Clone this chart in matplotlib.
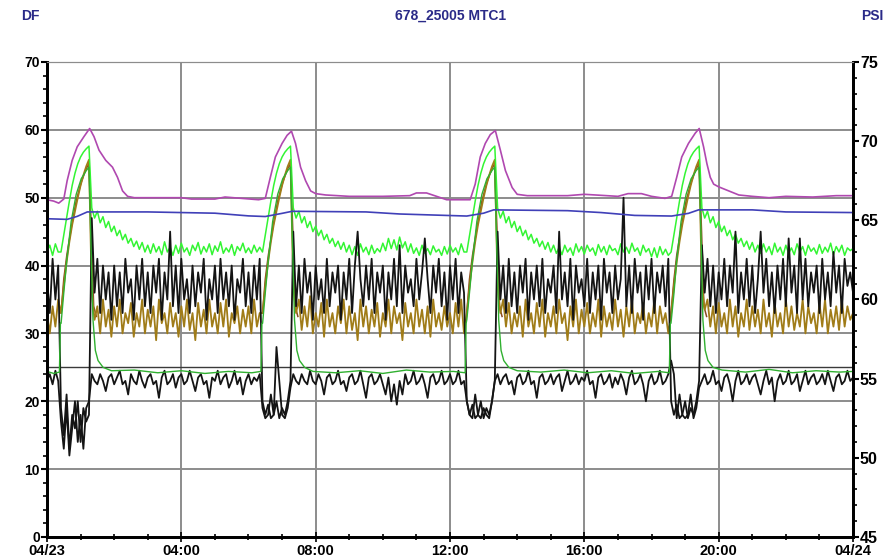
import numpy as np
import matplotlib
matplotlib.use("Agg")
import matplotlib.pyplot as plt
from matplotlib.ticker import MultipleLocator

# ---- datos (lecturas cada 5 min, 04/23 00:00 -> 04/24 00:00) ----
titulo = "678_25005 MTC1"
xtick_horas = [0, 4, 8, 12, 16, 20, 24]
xtick_labels = ["04/23", "04:00", "08:00", "12:00", "16:00", "20:00", "04/24"]

# negro superior (DF)
negro_alto = [
    38, 33, 41, 35, 40, 19, 15, 21, 13, 18, 16, 20,
    14, 19, 17, 18, 47, 36, 41, 33, 40, 35, 39, 32,
    40, 34, 39, 33, 41, 36, 38, 32, 40, 35, 41, 34,
    39, 33, 40, 36, 41, 32, 39, 35, 45, 34, 40, 33,
    41, 35, 38, 33, 40, 34, 39, 36, 41, 32, 38, 35,
    40, 33, 41, 35, 39, 34, 40, 32, 38, 36, 41, 34,
    39, 33, 40, 35, 41, 20, 18, 19.5, 17.5, 18, 20, 17.5,
    19, 18, 20, 23, 45, 34, 40, 33, 41, 36, 39, 32,
    40, 35, 38, 33, 41, 34, 39, 36, 40, 32, 39, 35,
    41, 33, 40, 45, 38, 34, 40, 35, 41, 33, 39, 36,
    40, 32, 39, 35, 41, 34, 43, 33, 40, 36, 38, 34,
    41, 35, 39, 44, 38, 33, 40, 36, 41, 34, 39, 32,
    40, 35, 41, 33, 39, 36, 20, 18, 19.5, 17.5, 18, 20,
    17.5, 19, 18, 20, 23, 45, 35, 40, 33, 41, 34, 39,
    33, 40, 36, 41, 32, 39, 35, 40, 34, 41, 33, 38,
    36, 40, 33, 45, 35, 39, 34, 41, 32, 40, 36, 38,
    34, 41, 33, 39, 35, 40, 32, 41, 36, 39, 33, 40,
    35, 38, 50, 34, 40, 33, 41, 36, 39, 32, 40, 35,
    41, 33, 39, 36, 40, 34, 41, 20, 18, 19.5, 17.5, 18,
    20, 17.5, 19, 18, 20, 23, 43, 36, 41, 34, 40, 33,
    39, 35, 41, 34, 40, 36, 45, 33, 39, 35, 41, 34,
    40, 33, 38, 45, 36, 41, 34, 39, 33, 40, 35, 41,
    34, 44, 36, 40, 33, 44, 35, 41, 34, 39, 36, 40,
    33, 41, 35, 39, 34, 42, 36, 40, 33, 41, 37, 39,
    36,
]

# negro inferior (DF)
negro_bajo = [
    23, 24, 22.5, 24.5, 23, 17, 13, 19, 12, 16, 20, 14,
    18, 13, 19, 20, 24, 23, 22.5, 24, 23, 21.5, 23.5, 24,
    22.5, 23.5, 24.5, 22.5, 23, 21, 24, 23, 22.5, 24.5, 23, 22,
    23.5, 24, 22.5, 23, 20.5, 23.5, 24.5, 22.5, 23, 24, 22, 23.5,
    24, 22.5, 23, 24.5, 23, 21.5, 23.5, 24, 22.5, 23, 20.5, 23.5,
    23, 24.5, 22.5, 23.5, 24, 22, 23, 24.5, 22.5, 23.5, 21, 23,
    24, 22.5, 23.5, 23, 24, 19, 17.5, 18, 21, 18, 28, 23,
    18, 17.5, 19, 22, 24, 23, 22.5, 24, 23, 22.5, 24.5, 23,
    22.5, 24, 23, 21, 23.5, 24, 22.5, 23, 24.5, 22.5, 23, 21.5,
    23.5, 24, 22.5, 23, 24.5, 22.5, 20.5, 23.5, 24, 22.5, 23, 24,
    22.5, 21, 23.5, 20, 22.5, 19.5, 23, 21, 24, 22.5, 23, 24.5,
    22.5, 23, 24, 22.5, 20.5, 23.5, 24, 22.5, 23, 24.5, 22.5, 23,
    24, 22.5, 23, 24.5, 22.5, 23, 20, 18, 17.5, 21, 18, 17.5,
    19, 18, 17.5, 20, 23, 24, 22.5, 23.5, 24, 22.5, 23, 21,
    23.5, 24, 22.5, 23, 24.5, 22.5, 23, 20.5, 23.5, 24, 22.5, 23,
    24, 22.5, 23.5, 24, 21.5, 23, 24.5, 22.5, 23, 24, 22.5, 23.5,
    23, 24.5, 22.5, 23, 20.5, 23.5, 24, 22.5, 23, 24, 22, 23.5,
    22.5, 24, 23, 21, 23.5, 24.5, 22.5, 23, 24, 22.5, 20, 23,
    24, 22.5, 23, 24.5, 22.5, 23, 24, 26, 24, 17.5, 21, 18,
    17.5, 18, 21, 17.5, 19, 22, 23, 24, 22.5, 23, 24.5, 22.5,
    23, 21.5, 23.5, 24, 22.5, 20, 23, 24.5, 22.5, 23, 24, 22.5,
    23.5, 24, 22.5, 21, 23, 24.5, 22.5, 23.5, 20, 23, 24, 22.5,
    23, 24.5, 22.5, 23, 24, 21.5, 23, 24.5, 22.5, 23.5, 24, 22.5,
    23, 24, 22.5, 24.5, 23, 21.5, 23.5, 24, 22.5, 23, 24.5, 23,
    23.5,
]

# ocre (DF)
ocre = [
    33, 30, 34, 31, 35, 33, 37, 40.5, 43.5, 46, 48, 50,
    51.8, 53.3, 54.6, 55.6, 36, 32, 34, 30, 35, 31, 33.5, 29.5,
    34, 31, 35, 30, 33, 31.5, 34.5, 29.5, 33, 31, 35, 30,
    33.5, 31, 34, 29, 35, 31.5, 33, 30, 34.5, 31, 33, 29.5,
    34, 31, 35, 30.5, 33, 29, 34.5, 31, 33.5, 30, 35, 31,
    33, 30, 34.5, 31, 35, 29.5, 33, 31.5, 34, 30, 33.5, 31,
    34, 30, 35, 31, 33, 33, 37, 40.5, 43.5, 46, 48, 50,
    51.8, 53.3, 54.6, 55.6, 37, 33, 35, 30.5, 34, 31, 35.5, 30,
    33, 31, 34.5, 29.5, 35, 31, 33, 30, 34, 31.5, 35, 30,
    34, 30.5, 33, 29, 35, 31, 34, 30, 33.5, 31, 34.5, 29.5,
    33, 31, 35, 30, 34, 31.5, 33, 29, 34.5, 31, 33, 30,
    35, 31, 33.5, 30, 34, 29.5, 35, 31, 33, 30.5, 34, 31,
    33, 30, 34.5, 31, 35, 30, 33, 37, 40.5, 43.5, 46, 48,
    50, 51.8, 53.3, 54.6, 55.6, 37, 33, 35, 31, 34.5, 30, 33,
    31, 34, 29.5, 35, 31, 33, 30, 34.5, 31, 35, 29.5, 33,
    31, 34, 30, 35, 31.5, 33, 29, 34, 31, 35, 30, 33.5,
    31, 34.5, 30, 33, 31, 35, 29.5, 34, 31, 33, 30.5, 35,
    31, 33.5, 29.5, 34, 31, 35, 30, 33, 31.5, 34.5, 30, 33,
    31, 35, 30, 34, 31.5, 33, 30, 33, 37, 40.5, 43.5, 46,
    48, 50, 51.8, 53.3, 54.6, 55.6, 37, 33.5, 35, 31, 34, 30,
    34.5, 31, 33, 30, 35, 31, 34, 29.5, 33, 31, 35, 30.5,
    34, 31, 33.5, 30, 35, 31, 33, 29.5, 34.5, 31, 33, 30,
    35, 31, 34, 30.5, 33, 31, 35, 30, 34, 31.5, 33, 30,
    34.5, 31, 35, 30, 33.5, 31, 34, 30.5, 35, 31, 34, 32,
    33,
]

# verde claro (DF)
verde = [
    42, 43, 41.5, 43.2, 42, 42, 44.5, 47, 49.5, 51.8, 53.6, 55,
    56, 56.7, 57.2, 57.6, 48.5, 47, 48, 46.3, 47.2, 45.6, 46.5, 45,
    45.8, 44.4, 45.2, 43.8, 44.6, 43.3, 44, 42.8, 43.6, 42.4, 43.4, 42,
    43, 41.8, 43.2, 42, 42.8, 41.6, 43.5, 42, 42.7, 41.5, 43, 41.8,
    43.3, 42, 42.6, 41.5, 43, 42.2, 43.4, 41.7, 42.8, 42, 43.2, 41.6,
    42.9, 42.1, 43.5, 41.8, 42.6, 42, 43.1, 41.5, 42.8, 42.2, 43.3, 41.9,
    42.6, 41.8, 43, 42, 42.7, 42, 44.5, 47, 49.5, 51.8, 53.6, 55,
    56, 56.7, 57.2, 57.6, 48.5, 47, 48, 46.3, 47.2, 45.6, 46.5, 45,
    45.8, 44.4, 45.2, 43.8, 44.6, 43.3, 44, 42.8, 43.6, 42.4, 43.4, 42,
    43, 41.6, 42.8, 41.5, 43.2, 42, 42.7, 41.6, 43, 41.8, 42.5, 42,
    43.3, 42.2, 44, 42.5, 43.8, 42.3, 44.2, 42.6, 43.5, 42, 43.2, 41.8,
    42.6, 41.5, 43, 41.8, 42.5, 41.6, 42.9, 42, 42.4, 41.5, 42.8, 41.7,
    43, 42, 42.6, 41.6, 43.2, 42, 42, 44.5, 47, 49.5, 51.8, 53.6,
    55, 56, 56.7, 57.2, 57.6, 48.5, 47, 48, 46.3, 47.2, 45.6, 46.5,
    45, 45.8, 44.4, 45.2, 43.8, 44.6, 43.3, 44, 42.8, 43.6, 42.4, 43.4,
    42, 43, 41.8, 42.7, 41.6, 43, 42, 42.6, 41.5, 43.2, 42, 42.8,
    41.7, 43, 42.1, 42.6, 41.5, 43.1, 42, 42.8, 41.6, 43, 42.2, 42.5,
    41.6, 43.2, 42, 42.7, 41.8, 43.3, 42.1, 42.6, 41.5, 43, 42, 42.5,
    41.3, 42.6, 41.2, 42.8, 41.6, 42.4, 41.5, 42, 44.5, 47, 49.5, 51.8,
    53.6, 55, 56, 56.7, 57.2, 57.6, 48.5, 47, 48, 46.3, 47.2, 45.6,
    46.5, 45, 45.8, 44.4, 45.2, 43.8, 44.6, 43.3, 44, 42.8, 43.6, 42.4,
    43.4, 42, 43, 41.8, 43.2, 42, 42.8, 41.6, 43.3, 42, 42.7, 41.5,
    43, 41.8, 42.6, 41.6, 43.2, 42, 42.8, 41.5, 43, 42.1, 42.6, 41.7,
    43.1, 41.8, 42.7, 42, 43.3, 41.6, 42.8, 42, 43, 41.5, 42.6, 42.2,
    42.5,
]

# verde oscuro (horas, DF)
verde2_h = [0, 0.2, 0.37, 0.4, 0.42, 0.5, 0.59, 0.72, 0.87, 1.02, 1.17, 1.25, 1.3, 1.37, 1.44, 1.52, 1.67, 1.92,
            2.6, 3.3, 4.0, 4.7, 5.4, 6.1, 6.37, 6.4, 6.42, 6.5, 6.59, 6.72, 6.87, 7.02, 7.17, 7.25, 7.3, 7.37, 7.44,
            7.52, 7.67, 7.92, 8.6, 9.3, 10.0, 10.7, 11.4, 12.1, 12.45, 12.48, 12.5, 12.58, 12.67, 12.8, 12.95, 13.1,
            13.25, 13.33, 13.38, 13.45, 13.52, 13.6, 13.75, 14.0, 14.7, 15.4, 16.1, 16.8, 17.5, 18.2, 18.53, 18.56,
            18.58, 18.67, 18.75, 18.88, 19.03, 19.18, 19.33, 19.42, 19.47, 19.53, 19.6, 19.68, 19.83, 20.1, 20.8,
            21.5, 22.2, 22.9, 23.6, 24.0]
verde2_v = [24.4, 24.1, 24.3, 31.5, 31.5, 36, 40.8, 46.5, 50.5, 52.8, 54, 54.5, 45, 32, 27.5, 26, 25, 24.5,
            24.6, 24.2, 24.5, 24.1, 24.4, 24.2, 24.4, 31.5, 31.5, 36, 40.8, 46.5, 50.5, 52.8, 54, 54.5, 45, 32, 27.5,
            26, 25, 24.4, 24.2, 24.5, 24.1, 24.6, 24.3, 24.4, 24.2, 31.5, 32, 36, 40.8, 46.5, 50.5, 52.8,
            54, 54.5, 45, 32, 27.5, 26, 25, 24.5, 24.3, 24.6, 24.2, 24.5, 24.1, 24.4, 24.2, 31.5,
            31.5, 36, 40.8, 46.5, 50.5, 52.8, 54, 54.5, 45, 32, 27.5, 26, 25, 24.6, 24.3,
            24.7, 24.2, 24.5, 24.3, 24.4]

# marron (horas, DF) - solo se ve durante los deshielos, None = oculto
marron_h = [0.42, 0.5, 0.59, 0.72, 0.87, 1.02, 1.17, 1.25, 1.32, 1.39, 1.47, 1.5,
            6.42, 6.5, 6.59, 6.72, 6.87, 7.02, 7.17, 7.25, 7.32, 7.39, 7.47, 7.5,
            12.5, 12.58, 12.67, 12.8, 12.95, 13.1, 13.25, 13.33, 13.4, 13.47, 13.55, 13.6,
            18.58, 18.67, 18.75, 18.88, 19.03, 19.18, 19.33, 19.42, 19.49, 19.56, 19.64]
marron_v = [33, 38, 41.5, 45.5, 49.5, 52.3, 54.3, 55, 45, 34, 32.5, None,
            33, 38, 41.5, 45.5, 49.5, 52.3, 54.3, 55, 45, 34, 32.5, None,
            33, 38, 41.5, 45.5, 49.5, 52.3, 54.3, 55, 45, 34, 32.5, None,
            33, 38, 41.5, 45.5, 49.5, 52.3, 54.3, 55, 45, 34, 32.5]

# magenta (horas, DF)
magenta_h = [0, 0.2, 0.35, 0.5, 0.6, 0.75, 0.9, 1.1, 1.27, 1.4, 1.55, 1.75, 1.95, 2.1, 2.25, 2.4, 2.6,
             4.0, 4.3, 5.0, 5.3, 5.8, 6.3, 6.5, 6.65, 6.8, 7.0, 7.15, 7.28, 7.4, 7.55, 7.7, 7.85, 8.0, 8.3,
             9.0, 10.0, 10.8, 11.0, 11.3, 11.6, 11.9, 12.6, 12.75, 12.9, 13.05, 13.2, 13.35, 13.5, 13.65, 13.85,
             14.0, 14.3, 15.5, 16.0, 17.0, 17.3, 17.7, 18.0, 18.4, 18.6, 18.75, 18.9, 19.1, 19.3, 19.42, 19.55,
             19.65, 19.75, 19.85, 20.0, 20.3, 20.6, 21.0, 21.5, 22.0, 22.8, 23.5, 24.0]
magenta_v = [49.7, 49.5, 49.2, 49.8, 52.5, 55.5, 57.5, 59, 60.2, 59, 57, 55.5, 54.5, 53, 51, 50.2, 50,
             50, 49.8, 49.8, 50.1, 49.9, 49.7, 49.9, 53, 56, 58, 59.2, 59.8, 58, 54.5, 52.5, 51, 50.6, 50.4,
             50.2, 50.2, 50.3, 50.7, 50.7, 50.2, 49.7, 49.7, 52, 56, 58, 59.3, 59.9, 57, 54, 51.5,
             50.5, 50.3, 50.3, 50.5, 50.2, 50.6, 50.6, 50.2, 49.9, 50.2, 53, 56, 58, 59.5, 60.2, 57.5,
             55, 53, 52, 51.6, 51, 50.4, 50.2, 50, 50.2, 50.1, 50.3, 50.3]

# azul (horas, PSI - eje derecho)
azul_h = [0, 0.6, 0.9, 1.2, 3.0, 5.0, 6.0, 6.5, 7.0, 7.3, 9.5, 10.5, 12.5, 13.0, 13.3,
          15.5, 16.5, 17.5, 18.6, 19.1, 19.4, 21.0, 22.0, 24.0]
azul_v = [65.10, 65.06, 65.25, 65.53, 65.53, 65.45, 65.28, 65.24, 65.44, 65.57, 65.53, 65.40, 65.27, 65.45, 65.66,
          65.61, 65.49, 65.31, 65.27, 65.44, 65.66, 65.66, 65.53, 65.49]

# consigna (linea plana)
consigna_h = [0, 24]
consigna_v = [25, 25]

fuente = ["Liberation Sans Narrow", "Liberation Sans", "DejaVu Sans"]
plt.rcParams["font.family"] = fuente

fig = plt.figure(figsize=(8.95, 5.59), dpi=100)
ax = fig.add_axes([0.0525, 0.0394, 0.9006, 0.8497])
ax2 = ax.twinx()

t5 = lambda v: np.arange(len(v)) / 12.0   # indice de 5 minutos -> horas
marron = np.array([np.nan if v is None else v for v in marron_v])

ax.plot(consigna_h, consigna_v, color="#3a3a3a", lw=1.0, zorder=2)
ax.plot(marron_h, marron, color="#8a4a22", lw=1.1, zorder=3)
ax.plot(t5(ocre), ocre, color="#a07c18", lw=1.3, zorder=4)
ax.plot(t5(verde), verde, color="#33f533", lw=1.1, zorder=5)
ax.plot(t5(negro_alto), negro_alto, color="#141414", lw=1.3, zorder=6)
ax.plot(t5(negro_bajo), negro_bajo, color="#141414", lw=1.3, zorder=6)
ax.plot(verde2_h, verde2_v, color="#30b030", lw=1.0, zorder=7)
ax.plot(magenta_h, magenta_v, color="#b048b0", lw=1.2, zorder=8)
ax2.plot(azul_h, azul_v, color="#4040b8", lw=1.2)

# ejes
ax.set_xlim(0, 24)
ax.set_ylim(0, 70)
ax2.set_ylim(45, 75)
ax.set_yticks(range(0, 71, 10))
ax.yaxis.set_minor_locator(MultipleLocator(2))
ax2.set_yticks(range(45, 76, 5))
ax2.yaxis.set_minor_locator(MultipleLocator(1))
ax.set_xticks(xtick_horas)
ax.set_xticklabels(xtick_labels)
ax.xaxis.set_minor_locator(MultipleLocator(1))

ax.grid(True, which="major", color="#8c8c8c", lw=1.4)
ax.set_axisbelow(True)

for lado in ["left", "bottom", "right"]:
    ax.spines[lado].set_linewidth(2)
    ax2.spines[lado].set_linewidth(2)
ax.spines["top"].set_color("#8c8c8c")
ax2.spines["top"].set_color("#8c8c8c")

ax.tick_params(axis="y", which="major", length=4, width=1.5, pad=1, labelsize=10)
ax.tick_params(axis="y", which="minor", length=3, width=1.2)
ax.tick_params(axis="x", which="major", direction="inout", length=7, width=1.2, pad=1.5, labelsize=10.5)
ax.tick_params(axis="x", which="minor", direction="inout", length=5, width=1.2)
ax2.tick_params(axis="y", which="major", length=4, width=1.5, pad=1, labelsize=11.5)
ax2.tick_params(axis="y", which="minor", length=3, width=1.2)
for lab in ax.get_xticklabels() + ax.get_yticklabels() + ax2.get_yticklabels():
    lab.set_fontweight("bold")

# textos de cabecera
fig.text(0.034, 0.972, "DF", color="#2a2a88", fontsize=10, fontweight="bold", ha="center", va="center")
fig.text(0.503, 0.972, titulo, color="#2a2a88", fontsize=10, fontweight="bold", ha="center", va="center")
fig.text(0.975, 0.972, "PSI", color="#2a2a88", fontsize=10, fontweight="bold", ha="center", va="center")

fig.savefig("out.png", dpi=100)
